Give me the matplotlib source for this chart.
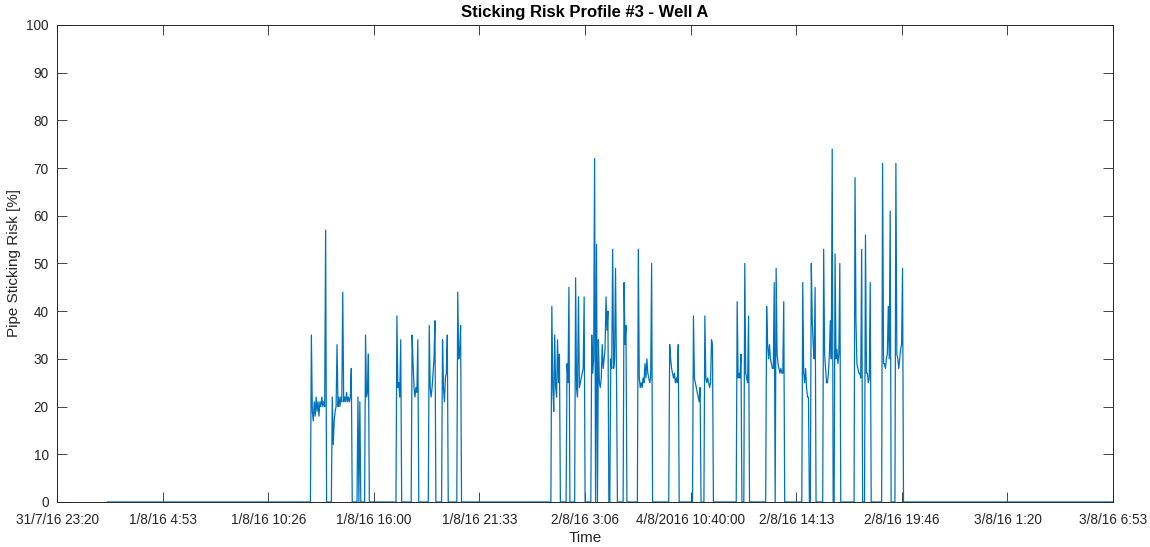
import numpy as np
import matplotlib.pyplot as plt

plt.rcParams['font.family'] = ['Liberation Sans', 'DejaVu Sans']

# logger runs every 3 minutes; times are hours after 31/7/16 23:20
dt = 0.05
t_first = 2.63
t_last = 55.56
span = 55.556

tick_labels = ['31/7/16 23:20', '1/8/16 4:53', '1/8/16 10:26', '1/8/16 16:00',
               '1/8/16 21:33', '2/8/16 3:06', '4/8/2016 10:40:00', '2/8/16 14:13',
               '2/8/16 19:46', '3/8/16 1:20', '3/8/16 6:53']

# (start hour, risk values in %) for each stretch of non-zero readings
run_a = [
    (13.40, [35, 19, 17, 21, 18, 22, 19, 21, 18, 21, 20, 22, 20, 21, 20, 57]),
    (14.47, [22, 12, 17, 19, 20, 33, 20, 22, 20, 22, 21, 44, 21, 22, 21, 23,
             21, 22, 21, 22, 28]),
    (15.85, [22, 0, 21]),
    (16.24, [35, 22, 23, 31]),
    (17.87, [39, 24, 25, 22, 34]),
    (18.68, [35, 29, 24, 22, 24, 23, 34]),
    (19.57, [37, 24, 22, 24, 27, 30, 38]),
    (20.29, [34, 24, 21, 26, 27, 35]),
    (21.10, [44, 30, 31, 37]),
]
run_b = [
    (26.03, [41, 24, 19, 35, 24, 22, 34, 25, 31]),
    (26.85, [29, 25, 45]),
    (27.30, [47, 24, 22, 43, 24, 25, 26, 27, 28, 43]),
    (28.13, [35, 27, 30, 72, 0, 54, 0, 34, 25, 24, 26, 33, 28, 30, 32, 43,
             36, 40]),
    (29.13, [30, 28, 53, 28, 30, 49, 27]),
    (29.81, [46, 33, 37]),
    (30.57, [53, 26, 24, 25, 24, 26, 25, 29, 26, 30, 27, 26, 25, 26, 50]),
]
run_c = [
    (32.21, [33, 30, 28, 27, 26, 27, 25, 26, 25, 33]),
    (33.47, [39, 26, 25, 24, 23, 22, 21, 24]),
    (34.09, [39, 26, 25, 26, 25, 24, 25, 34, 33]),
    (35.76, [42, 26, 27, 26, 31]),
    (36.19, [50, 27, 26, 25, 39]),
    (37.34, [41, 33, 30, 33, 30, 29, 28, 28, 46, 0, 49, 31, 29, 28, 27, 28,
             27, 27, 42]),
]
run_d = [
    (39.21, [46, 27, 25, 28, 24, 22, 22, 0, 0, 50, 38, 33, 30, 45]),
    (40.33, [53, 31, 28, 25, 25, 27, 31, 38, 30, 74, 0, 0, 52, 30, 32, 29,
             31, 50]),
    (41.97, [68, 38, 29, 28, 27, 27, 26, 53, 0, 0, 0, 56, 27, 27, 25, 26, 46]),
    (43.42, [71, 29, 29, 28, 30, 31, 41, 30, 61, 0, 0, 0, 0, 0, 71, 31, 30,
             28, 30, 32, 33, 49]),
]

n = int(round((t_last - t_first) / dt)) + 1
t = t_first + dt * np.arange(n)
risk = np.zeros(n)
for start, vals in run_a + run_b + run_c + run_d:
    i0 = int(round((start - t_first) / dt))
    risk[i0:i0 + len(vals)] = vals

fig = plt.figure(figsize=(11.5, 5.47), dpi=100)
ax = fig.add_axes([0.0496, 0.0823, 0.9183, 0.872])
ax.plot(t, risk, color='#0072BD', lw=0.9)

ax.set_xlim(0, span)
ax.set_ylim(0, 100)
ax.set_xticks(np.linspace(0, span, len(tick_labels)))
ax.set_xticklabels(tick_labels)
ax.set_yticks(np.arange(0, 101, 10))

ax.tick_params(direction='in', length=7, width=0.6, colors='#262626',
               labelsize=9.8, top=True, right=True)
ax.tick_params(axis='x', pad=8)
ax.tick_params(axis='y', pad=6)
for s in ax.spines.values():
    s.set_color('#262626')
    s.set_linewidth(0.7)

ax.set_title('Sticking Risk Profile #3 - Well A', fontsize=12,
             fontweight='bold', color='#000000', pad=6)
ax.set_xlabel('Time', fontsize=11, color='#262626', labelpad=3)
ax.set_ylabel('Pipe Sticking Risk [%]', fontsize=11, color='#262626',
              labelpad=4)

fig.savefig('out.png', dpi=100)
